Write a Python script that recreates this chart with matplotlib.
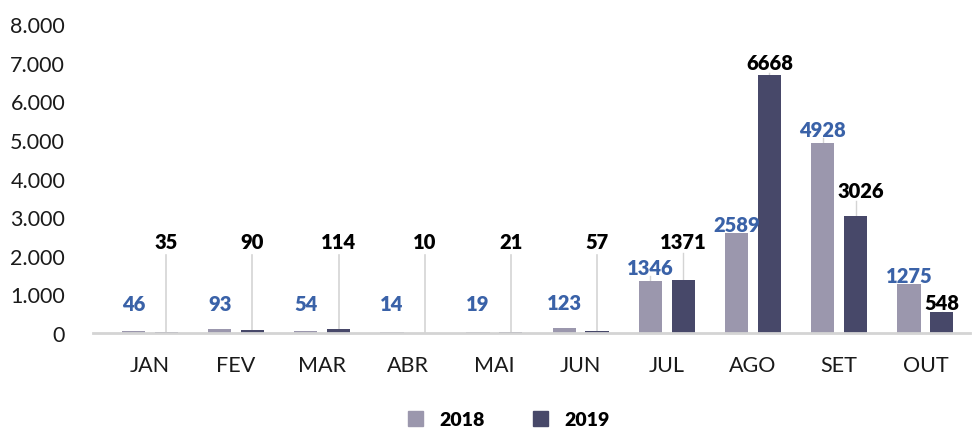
import matplotlib.pyplot as plt
import numpy as np
from matplotlib.ticker import FuncFormatter
from matplotlib.patches import Patch

plt.rcParams['font.family'] = ['Lato', 'DejaVu Sans']

# dados
meses = ['JAN', 'FEV', 'MAR', 'ABR', 'MAI', 'JUN', 'JUL', 'AGO', 'SET', 'OUT']
v2018 = [46, 93, 54, 14, 19, 123, 1346, 2589, 4928, 1275]
v2019 = [35, 90, 114, 10, 21, 57, 1371, 6668, 3026, 548]

# altura onde ficam os rótulos (layout)
lbl_y_2018 = [760, 760, 760, 760, 760, 800, 1700, 2820, 5280, 1480]
lbl_y_2019 = [2360, 2360, 2360, 2360, 2360, 2360, 2360, 7000, 3700, 800]

cor18 = '#9b97ad'
cor19 = '#474869'
cor_lbl18 = '#3a62a8'
cor_linha = '#d4d4d4'

fig = plt.figure(figsize=(9.78, 4.31), dpi=100)
ax = fig.add_axes([0.095, 0.225, 0.897, 0.717])

x = np.arange(len(meses))
off = 0.19
w = 0.27

ax.bar(x - off, v2018, w, color=cor18, label='2018')
ax.bar(x + off, v2019, w, color=cor19, label='2019')

# rótulos 2018
for i, v in enumerate(v2018):
    y = lbl_y_2018[i]
    if y - v > 250 and v > 500:
        ax.plot([x[i] - off] * 2, [v, y - 220], color=cor_linha, lw=1, zorder=0)
    ax.text(x[i] - off, y, str(v), ha='center', va='center', fontsize=14.5,
            fontweight='heavy', color=cor_lbl18)

# rótulos 2019 (com linhas de chamada)
for i, v in enumerate(v2019):
    y = lbl_y_2019[i]
    if v < 500:
        ax.plot([x[i] + off] * 2, [0, y - 340], color=cor_linha, lw=1.2, zorder=0)
    elif y - v > 250 and y > v:
        ax.plot([x[i] + off] * 2, [v, y - 280], color=cor_linha, lw=1, zorder=0)
    ax.text(x[i] + off + (0.06 if i == 8 else 0), y, str(v), ha='center', va='center',
            fontsize=14.5, fontweight='heavy', color='black')

ax.set_ylim(0, 8000)
ax.set_xlim(-0.66, 9.52)
ax.set_yticks(range(0, 8001, 1000))
ax.yaxis.set_major_formatter(FuncFormatter(lambda v, p: f'{int(v):,}'.replace(',', '.')))
ax.set_xticks(x)
ax.set_xticklabels(meses)

for s in ['top', 'right', 'left']:
    ax.spines[s].set_visible(False)
ax.spines['bottom'].set_color(cor_linha)
ax.spines['bottom'].set_linewidth(2)
ax.tick_params(axis='both', length=0, labelsize=15.5, colors='#1a1a1a')
ax.tick_params(axis='y', pad=20)
ax.tick_params(axis='x', pad=16)

handles = [Patch(color=cor18, label='2018'), Patch(color=cor19, label='2019')]
fig.legend(handles=handles, loc='center', bbox_to_anchor=(0.52, 0.025), ncol=2,
           frameon=False, prop={'weight': 'heavy', 'size': 14},
           handlelength=0.8, handleheight=0.8, columnspacing=2.5, handletextpad=0.8)

plt.savefig('out.png')
